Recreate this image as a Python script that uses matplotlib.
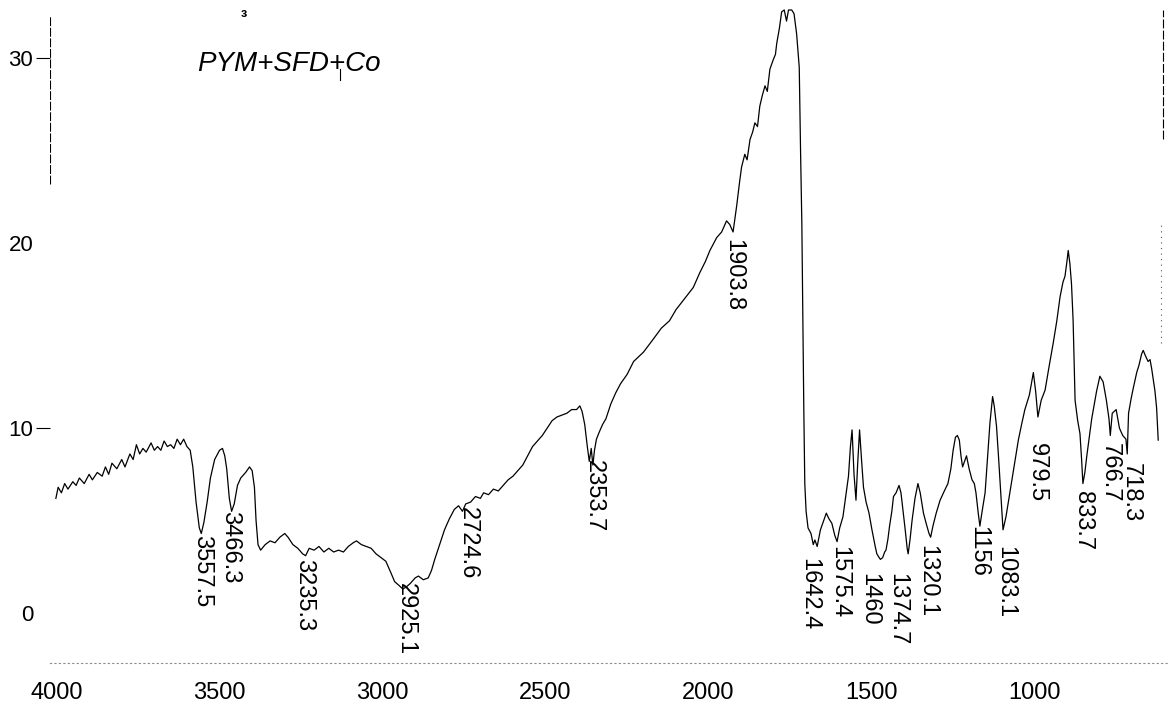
import matplotlib
matplotlib.use("Agg")
import matplotlib.pyplot as plt

plt.rcParams["font.family"] = ["Liberation Sans", "DejaVu Sans"]

# spectrum (x in the units of the printed axis, y = %T)
wavenumber = [
    4002, 3995, 3985, 3975, 3965, 3950, 3940, 3930, 3915, 3900, 3890, 3875, 3860, 3850,
    3840, 3830, 3815, 3800, 3790, 3775, 3765, 3755, 3745, 3735, 3725, 3710, 3700, 3690,
    3680, 3670, 3660, 3650, 3640, 3630, 3620, 3610, 3600, 3590, 3582, 3572, 3562, 3556,
    3548, 3538, 3528, 3515, 3500, 3491, 3484, 3478, 3470, 3463, 3455, 3445, 3435, 3420,
    3408, 3400, 3393, 3388, 3382, 3374, 3360, 3345, 3330, 3315, 3300, 3290, 3275, 3260,
    3245, 3236, 3225, 3210, 3195, 3180, 3165, 3150, 3135, 3120, 3105, 3090, 3080, 3065,
    3050, 3035, 3020, 3005, 2990, 2975, 2963, 2950, 2938, 2928, 2915, 2900, 2890, 2875,
    2860, 2850, 2840, 2825, 2810, 2795, 2780, 2767, 2755, 2745, 2730, 2715, 2700, 2690,
    2675, 2660, 2645, 2630, 2615, 2600, 2585, 2570, 2555, 2540, 2525, 2510, 2495, 2480,
    2465, 2450, 2435, 2420, 2405, 2395, 2388, 2380, 2372, 2366, 2360, 2355, 2350, 2344,
    2335, 2325, 2315, 2300, 2285, 2270, 2250, 2230, 2200, 2170, 2145, 2120, 2100, 2078,
    2060, 2047, 2027, 2010, 1996, 1975, 1960, 1945, 1935, 1925, 1914, 1905, 1899, 1889,
    1882, 1873, 1865, 1858, 1850, 1843, 1835, 1827, 1820, 1812, 1802, 1795, 1791, 1783,
    1776, 1768, 1761, 1755, 1745, 1738, 1730, 1722, 1718, 1714, 1711, 1708, 1705, 1701,
    1695, 1686, 1679, 1674, 1667, 1657, 1647, 1639, 1631, 1622, 1613, 1606, 1598, 1588,
    1578, 1571, 1565, 1560, 1554, 1548, 1543, 1537, 1531, 1525, 1517, 1508, 1499, 1489,
    1484, 1477, 1473, 1466, 1460, 1456, 1450, 1445, 1438, 1433, 1425, 1416, 1410, 1405,
    1397, 1391, 1388, 1382, 1376, 1367, 1358, 1351, 1341, 1332, 1324, 1319, 1312, 1302,
    1290, 1277, 1266, 1257, 1250, 1243, 1237, 1231, 1226, 1221, 1215, 1209, 1201, 1192,
    1185, 1180, 1173, 1168, 1162, 1152, 1144, 1137, 1129, 1124, 1117, 1111, 1105, 1100,
    1097, 1088, 1076, 1063, 1050, 1040, 1030, 1016, 1004, 997, 990, 980, 968, 956,
    943, 932, 922, 913, 907, 901, 897, 892, 887, 882, 876, 868, 861, 856,
    852, 846, 840, 825, 810, 800, 790, 780, 772, 768, 762, 750, 740, 730,
    720, 716, 712, 704, 697, 687, 680, 672, 667, 660, 652, 646, 641, 636,
    631, 626, 621,
]
transmittance = [
    6.2, 6.8, 6.5, 7.0, 6.7, 7.1, 6.9, 7.3, 7.0, 7.5, 7.2, 7.6, 7.4, 7.9,
    7.5, 8.1, 7.8, 8.3, 7.9, 8.6, 8.3, 9.1, 8.6, 8.9, 8.7, 9.2, 8.8, 9.0,
    8.8, 9.3, 9.0, 9.1, 8.9, 9.4, 9.1, 9.4, 9.0, 8.8, 7.9, 6.0, 4.6, 4.3,
    4.9, 6.0, 7.3, 8.3, 8.8, 8.9, 8.5, 7.8, 6.2, 5.5, 5.9, 6.9, 7.3, 7.6,
    7.9, 7.7, 6.8, 5.0, 3.7, 3.4, 3.7, 3.9, 3.8, 4.1, 4.3, 4.1, 3.7, 3.5,
    3.2, 3.1, 3.5, 3.4, 3.6, 3.3, 3.5, 3.3, 3.4, 3.3, 3.6, 3.8, 3.9, 3.7,
    3.6, 3.5, 3.2, 3.0, 2.8, 2.2, 1.7, 1.5, 1.3, 1.4, 1.6, 1.9, 2.0, 1.8,
    1.9, 2.3, 2.9, 3.7, 4.5, 5.1, 5.6, 5.8, 5.5, 5.9, 6.0, 6.3, 6.2, 6.5,
    6.4, 6.7, 6.6, 6.9, 7.2, 7.4, 7.7, 8.0, 8.5, 9.0, 9.3, 9.6, 10.0, 10.4,
    10.6, 10.7, 10.8, 11.0, 11.0, 11.2, 10.9, 10.2, 9.0, 8.2, 8.9, 8.0, 8.8, 9.4,
    9.8, 10.2, 10.5, 11.3, 11.9, 12.4, 12.9, 13.6, 14.1, 14.8, 15.4, 15.8, 16.4, 16.9,
    17.3, 17.6, 18.4, 19.0, 19.6, 20.3, 20.6, 21.2, 21.0, 20.6, 22.0, 23.3, 24.1, 24.8,
    24.5, 25.6, 26.0, 26.5, 26.3, 27.4, 28.0, 28.5, 28.2, 29.4, 29.9, 30.2, 30.8, 31.6,
    32.5, 32.6, 32.0, 32.6, 32.6, 32.4, 31.3, 29.5, 25.0, 21.0, 16.0, 11.0, 7.0, 5.5,
    4.6, 4.3, 3.7, 3.95, 3.6, 4.5, 5.0, 5.4, 5.1, 4.85, 4.2, 3.86, 4.6, 5.2,
    6.5, 7.4, 9.0, 9.9, 7.5, 6.1, 8.0, 9.9, 8.3, 6.8, 6.0, 5.4, 4.5, 3.6,
    3.2, 3.0, 2.9, 3.0, 3.3, 3.4, 4.0, 4.7, 5.5, 6.3, 6.5, 6.9, 6.5, 5.75,
    4.5, 3.5, 3.2, 4.0, 5.0, 6.2, 7.0, 6.5, 5.4, 4.8, 4.3, 4.1, 4.7, 5.4,
    6.1, 6.6, 7.0, 7.8, 8.8, 9.5, 9.6, 9.35, 8.5, 7.9, 8.2, 8.5, 7.8, 7.2,
    7.0, 6.5, 5.4, 4.7, 5.4, 6.5, 8.5, 10.3, 11.7, 11.2, 10.1, 8.5, 6.8, 5.3,
    4.5, 5.2, 6.5, 7.9, 9.35, 10.2, 11.0, 11.8, 13.0, 12.0, 10.6, 11.5, 12.05, 13.3,
    14.6, 15.8, 17.1, 17.9, 18.2, 19.0, 19.6, 18.9, 17.8, 15.8, 11.5, 10.4, 9.7, 8.3,
    7.0, 7.6, 8.5, 10.5, 12.0, 12.8, 12.5, 11.5, 10.5, 9.6, 10.8, 11.0, 10.0, 9.6,
    9.4, 8.6, 10.8, 11.6, 12.2, 13.0, 13.4, 14.0, 14.2, 13.9, 13.6, 13.7, 13.2, 12.6,
    12.0, 11.1, 9.35,
]

# peak labels: text, where its top edge sits
peak_text = ["3557.5", "3466.3", "3235.3", "2925.1", "2724.6", "2353.7", "1903.8",
             "1642.4", "1575.4", "1460", "1374.7", "1320.1", "1156", "1083.1",
             "979.5", "833.7", "766.7", "718.3"]
peak_x = [3555, 3468, 3242, 2927, 2738, 2352, 1924,
          1692, 1600, 1508, 1421, 1330, 1174, 1091,
          994, 851, 771, 706]
peak_y = [4.2, 5.5, 2.9, 1.6, 5.75, 8.3, 20.2,
          3.0, 3.6, 2.15, 2.15, 3.7, 4.7, 3.6,
          9.2, 6.6, 9.2, 8.1]

x_ticks = [4000, 3500, 3000, 2500, 2000, 1500, 1000]
y_ticks = [0, 10, 20, 30]
sample_name = "PYM+SFD+Co"

fig = plt.figure(figsize=(11.68, 7.05), dpi=100)
ax = fig.add_axes([50 / 1168, 42 / 705, 1118 / 1168, 663 / 705])

ax.plot(wavenumber, transmittance, color="black", linewidth=0.9)

for txt, px, py in zip(peak_text, peak_x, peak_y):
    ax.text(px, py, txt, rotation=-90, ha="center", va="top", fontsize=17)

ax.text(3569, 29.7, sample_name, style="italic", fontsize=20, ha="left", va="center")
ax.plot([3131, 3131], [28.8, 29.4], color="black", linewidth=0.8)
ax.text(3425, 32.4, "\u025c", fontsize=9, fontweight="bold", ha="center", va="center")

# remains of the frame in the scan
ax.plot([4020, 4020], [23.2, 32.3], color="black", linewidth=0.8, linestyle=(0, (8, 1.5)))
ax.plot([606, 606], [25.6, 32.6], color="black", linewidth=0.8, linestyle=(0, (8, 2)))
ax.plot([614, 614], [14.6, 21.2], color="#555555", linewidth=0.8, linestyle=(0, (1, 4)))

ax.set_xlim(4020, 591)
ax.set_ylim(-2.7, 33.14)
ax.set_xticks(x_ticks)
ax.set_yticks(y_ticks)
ax.tick_params(axis="x", length=0, pad=14, labelsize=17)
ax.tick_params(axis="y", length=10, width=0.8, pad=2, labelsize=16)
for i, t in enumerate(ax.yaxis.get_major_ticks()):
    if y_ticks[i] in (0, 20):
        t.tick1line.set_visible(False)

for side in ["left", "right", "top"]:
    ax.spines[side].set_visible(False)
ax.spines["bottom"].set_linestyle((0, (1, 3)))
ax.spines["bottom"].set_color("#888888")
ax.spines["bottom"].set_linewidth(0.8)

fig.savefig("out.png", dpi=100)
